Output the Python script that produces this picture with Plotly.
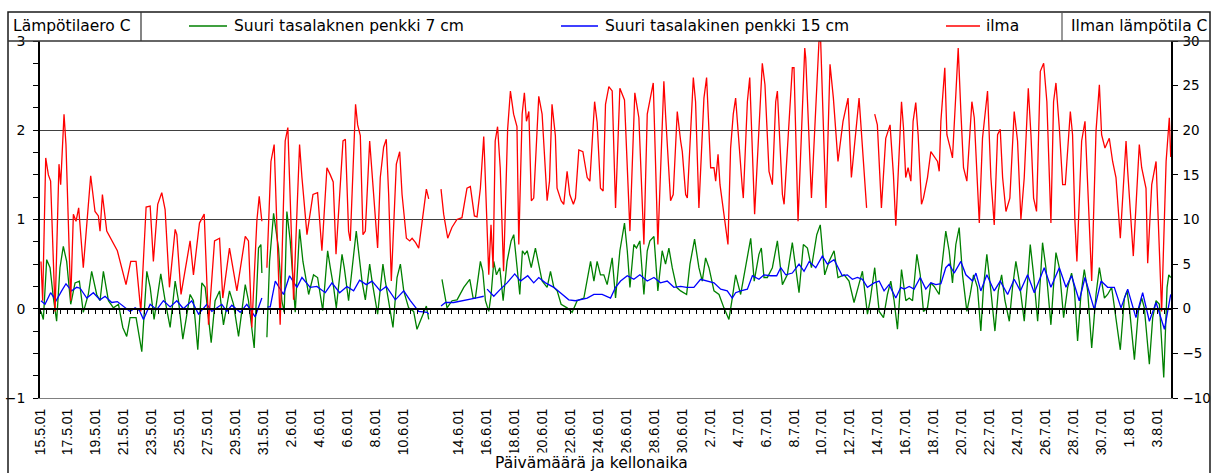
import plotly.graph_objects as go

# ---------------- data (x = days since 15.5.2001 00:00) ----------------
tick_days = [0, 2, 4, 6, 8, 10, 12, 14, 16, 18, 20, 22, 24, 26, 30, 32, 34, 36, 38, 40,
             42, 44, 46, 48, 50, 52, 54, 56, 58, 60, 62, 64, 66, 68, 70, 72, 74, 76, 78, 80]
tick_labels = ["15.5.01", "17.5.01", "19.5.01", "21.5.01", "23.5.01", "25.5.01", "27.5.01",
               "29.5.01", "31.5.01", "2.6.01", "4.6.01", "6.6.01", "8.6.01", "10.6.01",
               "14.6.01", "16.6.01", "18.6.01", "20.6.01", "22.6.01", "24.6.01", "26.6.01",
               "28.6.01", "30.6.01", "2.7.01", "4.7.01", "6.7.01", "8.7.01", "10.7.01",
               "12.7.01", "14.7.01", "16.7.01", "18.7.01", "20.7.01", "22.7.01", "24.7.01",
               "26.7.01", "28.7.01", "30.7.01", "1.8 01", "3.8.01"]

# Suuri tasalaknen penkki 7 cm (left axis, temperature difference C); None = gap
penkki7 = [
    (0.07, -0.03), (0.24, -0.12), (0.48, 0.55), (0.72, 0.46), (0.96, 0.12), (1.19, -0.14),
    (1.43, 0.46), (1.67, 0.70), (1.91, 0.53), (2.2, 0.05), (2.51, 0.29), (2.82, 0.31),
    (3.1, -0.04), (3.46, 0.16), (3.7, 0.42), (4.06, 0.16), (4.3, 0.09), (4.54, 0.42),
    (4.9, 0.09), (5.26, 0.01), (5.62, 0.05), (5.93, -0.21), (6.21, -0.31), (6.45, -0.1),
    (6.88, -0.1), (7.29, -0.48), (7.65, 0.42), (7.89, 0.24), (8.17, -0.12), (8.65, 0.39),
    (8.96, 0.09), (9.32, -0.21), (9.68, 0.31), (9.92, 0.09), (10.23, -0.34), (10.75, 0.16),
    (10.99, 0.09), (11.3, -0.46), (11.59, 0.29), (11.83, 0.24), (12.26, -0.38), (12.54, 0.09),
    (12.86, 0.2), (13.14, -0.18), (13.57, 0.2), (13.86, 0.05), (14.22, -0.31), (14.7, 0.27),
    (14.93, 0.09), (15.34, -0.44), (15.65, 0.68), (15.82, 0.72), (15.89, 0.4), None,
    (16.25, -0.32), (16.44, 0.53), (16.73, 1.07), (17.08, 0.68), (17.32, 0.09), (17.49, -0.04),
    (17.68, 1.09), (17.92, 0.76), (18.28, -0.04), (18.59, 0.89), (18.83, 0.53), (19.24, 0.16),
    (19.59, 0.38), (19.88, 0.35), (20.25, -0.02), (20.6, 0.65), (20.79, 0.46), (21.03, 0.24),
    (21.22, 0.01), (21.63, 0.61), (21.79, 0.46), (22.1, 0.09), (22.65, 0.87), (22.89, 0.53),
    (23.06, 0.31), (23.3, 0.1), (23.61, 0.5), (23.78, 0.31), (24.18, -0.06), (24.56, 0.5),
    (24.73, 0.31), (25.28, -0.21), (25.57, 0.35), (25.81, 0.5), (26.05, 0.2), (26.4, 0.01),
    (26.76, -0.03), (27.0, -0.23), (27.24, -0.14), (27.67, 0.03), (27.84, -0.12), None,
    (28.79, 0.33), (29.15, 0.01), (29.51, 0.09), (29.87, 0.1), (30.35, 0.24), (30.78, 0.33),
    (31.02, 0.12), (31.18, 0.12), (31.54, 0.53), (31.71, 0.42), (31.9, 0.09), (32.14, -0.03),
    (32.31, 0.16), (32.5, 0.53), (32.69, 0.38), (32.93, 0.46), (33.17, 0.09), (33.45, 0.53),
    (33.74, 0.76), (33.93, 0.83), (34.17, 0.46), (34.36, 0.16), (34.55, 0.65), (34.72, 0.61),
    (34.89, 0.65), (35.18, 0.46), (35.48, 0.68), (35.72, 0.5), (35.96, 0.31), (36.32, 0.24),
    (36.56, 0.42), (36.8, 0.24), (37.04, 0.2), (37.32, 0.05), (37.75, 0.01), (38.11, -0.04),
    (38.47, 0.09), (38.95, 0.12), (39.43, 0.53), (39.67, 0.31), (39.9, 0.53), (40.14, 0.38),
    (40.38, 0.38), (40.62, 0.27), (40.98, 0.57), (41.22, 0.12), (41.53, 0.65), (41.86, 0.96),
    (42.06, 0.65), (42.25, 0.24), (42.53, 0.72), (42.72, 0.68), (42.96, 0.76), (43.25, 0.16),
    (43.49, 0.65), (43.68, 0.76), (43.97, 0.81), (44.25, 0.2), (44.56, 0.65), (44.8, 0.5),
    (45.04, 0.68), (45.28, 0.46), (45.59, 0.24), (45.88, 0.2), (46.31, 0.16), (46.55, 0.5),
    (46.88, 0.78), (47.19, 0.46), (47.43, 0.31), (47.67, 0.57), (47.91, 0.46), (48.27, 0.2),
    (48.63, 0.16), (48.98, 0.01), (49.34, -0.12), (49.58, 0.12), (49.82, 0.38), (50.18, 0.16),
    (50.54, 0.5), (50.9, 0.79), (51.15, 0.31), (51.49, 0.61), (51.66, 0.68), (51.85, 0.35),
    (52.09, 0.35), (52.45, 0.46), (52.81, 0.76), (53.17, 0.27), (53.52, 0.38), (53.88, 0.74),
    (54.12, 0.46), (54.36, 0.18), (54.67, 0.72), (54.96, 0.68), (55.25, 0.46), (55.63, 0.83),
    (55.88, 0.94), (56.05, 0.68), (56.2, 0.38), (56.51, 0.53), (56.87, 0.65), (57.15, 0.35),
    (57.59, 0.38), (57.94, 0.31), (58.3, 0.07), (58.59, 0.24), (58.9, 0.42), (59.26, -0.06),
    (59.45, 0.09), (59.78, 0.46), (60.1, -0.03), (60.41, -0.1), (60.69, 0.16), (60.93, 0.31),
    (61.17, 0.09), (61.41, -0.23), (61.7, 0.44), (62.01, 0.09), (62.25, 0.12), (62.49, 0.09),
    (62.8, 0.61), (63.04, 0.38), (63.27, -0.03), (63.56, 0.01), (63.8, 0.29), (64.04, 0.25),
    (64.4, 0.16), (64.52, 0.38), (64.87, 0.87), (65.11, 0.65), (65.35, 0.29), (65.59, 0.72),
    (65.83, 0.91), (66.07, 0.38), (66.38, -0.03), (66.62, 0.16), (66.86, 0.38), (67.14, 0.24),
    (67.38, -0.25), (67.57, 0.24), (67.81, 0.61), (68.1, 0.2), (68.39, -0.25), (68.63, 0.2),
    (68.87, 0.38), (69.11, 0.09), (69.42, -0.14), (69.65, 0.24), (69.89, 0.53), (70.13, 0.31),
    (70.49, -0.14), (70.73, 0.31), (70.92, 0.72), (71.16, 0.38), (71.45, -0.14), (71.68, 0.42),
    (71.8, 0.74), (72.04, 0.46), (72.4, -0.18), (72.64, 0.38), (72.76, 0.63), (73.0, 0.46),
    (73.31, -0.1), (73.6, 0.24), (73.88, 0.4), (74.07, 0.24), (74.31, -0.36), (74.55, 0.16),
    (74.79, 0.44), (75.03, 0.2), (75.32, -0.44), (75.63, 0.16), (75.87, 0.46), (76.23, 0.12),
    (76.46, 0.16), (76.75, 0.24), (76.94, 0.01), (77.37, -0.46), (77.66, 0.12), (77.85, 0.2),
    (78.02, 0.01), (78.38, -0.57), (78.66, -0.03), (78.9, 0.12), (79.09, 0.01), (79.45, -0.62),
    (79.69, -0.1), (79.93, 0.09), (80.17, 0.05), (80.48, -0.77), (80.72, 0.24), (80.84, 0.38),
    (80.98, 0.35),
]

# Suuri tasalakinen penkki 15 cm (left axis)
penkki15 = [
    (0.07, 0.09), (0.36, 0.05), (0.76, 0.18), (1.15, 0.09), (1.55, 0.2), (1.86, 0.28),
    (2.27, 0.2), (2.63, 0.24), (2.87, 0.23), (3.35, 0.12), (3.82, 0.18), (4.3, 0.1),
    (4.66, 0.14), (5.14, 0.07), (5.54, 0.08), (6.09, 0.01), (6.45, -0.03), (6.81, 0.01),
    (7.12, -0.02), (7.41, -0.12), (7.89, 0.05), (8.36, -0.01), (8.84, 0.09), (9.32, 0.02),
    (9.8, 0.09), (10.27, 0.0), (10.87, 0.09), (11.35, -0.06), (11.95, 0.05), (12.31, -0.03),
    (13.02, 0.05), (13.38, -0.03), (13.74, 0.04), (14.34, -0.04), (14.81, 0.05), (15.41, -0.09),
    (15.89, 0.12), None,
    (16.3, 0.02), (16.49, 0.02), (16.85, 0.31), (17.44, 0.16), (17.87, 0.37), (18.4, 0.24),
    (18.76, 0.35), (19.35, 0.24), (19.83, 0.25), (20.43, 0.18), (20.91, 0.29), (21.46, 0.18),
    (21.98, 0.25), (22.46, 0.2), (22.89, 0.32), (23.37, 0.27), (23.78, 0.31), (24.37, 0.2),
    (24.8, 0.25), (25.45, 0.1), (26.05, 0.2), (26.52, 0.09), (27.12, -0.03), (27.72, -0.04),
    (27.84, -0.06), None,
    (28.72, 0.03), (29.04, 0.07), (29.63, 0.07), (30.35, 0.09), (30.7, 0.1), (31.18, 0.12),
    (31.78, 0.14), None,
    (32.02, 0.22), (32.5, 0.14), (32.98, 0.22), (33.45, 0.29), (34.0, 0.39), (34.41, 0.31),
    (34.93, 0.37), (35.36, 0.29), (35.72, 0.35), (36.2, 0.29), (36.8, 0.24), (37.28, 0.18),
    (37.87, 0.1), (38.35, 0.09), (39.19, 0.12), (39.67, 0.16), (40.26, 0.16), (40.86, 0.12),
    (41.22, 0.24), (41.58, 0.31), (42.06, 0.37), (42.53, 0.33), (42.96, 0.38), (43.49, 0.31),
    (43.97, 0.35), (44.44, 0.29), (44.92, 0.31), (45.4, 0.24), (45.88, 0.25), (46.31, 0.24),
    (46.83, 0.24), (47.31, 0.33), (47.79, 0.31), (48.27, 0.29), (48.75, 0.22), (49.22, 0.2),
    (49.58, 0.12), (49.82, 0.18), (50.18, 0.2), (50.66, 0.22), (51.02, 0.37), (51.49, 0.33),
    (51.85, 0.38), (52.33, 0.37), (52.76, 0.37), (53.05, 0.46), (53.41, 0.38), (53.88, 0.4),
    (54.36, 0.5), (54.72, 0.42), (55.09, 0.53), (55.56, 0.46), (56.03, 0.59), (56.39, 0.5),
    (56.87, 0.55), (57.15, 0.46), (57.46, 0.37), (57.82, 0.38), (58.18, 0.33), (58.54, 0.35),
    (58.9, 0.33), (59.26, 0.24), (59.74, 0.29), (60.1, 0.31), (60.22, 0.27), (60.45, 0.2),
    (60.81, 0.27), (61.29, 0.12), (61.65, 0.24), (61.89, 0.22), (62.25, 0.25), (62.6, 0.22),
    (63.04, 0.35), (63.44, 0.22), (63.8, 0.29), (64.16, 0.27), (64.52, 0.28), (64.87, 0.46),
    (65.11, 0.5), (65.47, 0.4), (65.95, 0.53), (66.31, 0.38), (66.79, 0.31), (67.03, 0.4),
    (67.38, 0.2), (67.81, 0.38), (68.34, 0.2), (68.77, 0.31), (69.3, 0.16), (69.77, 0.33),
    (70.21, 0.2), (70.73, 0.38), (71.21, 0.18), (71.92, 0.46), (72.4, 0.24), (73.0, 0.46),
    (73.48, 0.24), (73.88, 0.37), (74.43, 0.09), (74.84, 0.35), (75.51, -0.01), (75.99, 0.31),
    (76.46, 0.24), (76.94, 0.24), (77.42, 0.01), (77.9, 0.22), (78.49, -0.1), (78.97, 0.18),
    (79.45, -0.14), (79.93, 0.07), (80.53, -0.23), (80.98, 0.16),
]

# ilma (right axis, air temperature C)
ilma = [
    (0.07, 5.3), (0.19, 0.9), (0.41, 16.9), (0.6, 15.0), (0.76, 14.3), (1.08, -0.3),
    (1.36, 16.2), (1.48, 13.9), (1.72, 21.8), (1.86, 18.4), (2.2, 0.9), (2.39, 10.6),
    (2.58, 9.8), (2.77, 11.3), (3.1, 4.6), (3.63, 14.9), (3.94, 10.9), (4.18, 10.4),
    (4.3, 8.7), (4.47, 12.8), (4.78, 8.7), (5.26, 7.2), (5.54, 6.5), (6.16, 2.7),
    (6.5, 5.3), (6.88, 5.3), (7.22, -0.3), (7.6, 11.4), (7.89, 11.5), (8.12, 5.3),
    (8.43, 11.7), (8.72, 13.0), (8.96, 11.1), (9.27, 2.4), (9.68, 8.9), (9.8, 8.3),
    (10.1, 1.6), (10.75, 7.6), (10.99, 3.8), (11.42, 9.6), (11.76, 10.6), (12.07, -1.8),
    (12.5, 7.6), (12.86, 7.9), (13.09, 1.2), (13.57, 6.8), (14.1, 2.0), (14.7, 8.1),
    (14.93, 7.6), (15.17, -2.1), (15.53, 9.8), (15.7, 12.6), (15.89, 9.8), None,
    (16.25, 4.6), (16.54, 16.5), (16.77, 18.4), (17.2, -1.8), (17.56, 18.8), (17.75, 20.3),
    (18.16, 1.0), (18.59, 18.4), (18.76, 14.7), (19.12, 8.3), (19.55, 12.8), (19.88, 13.0),
    (20.19, 6.5), (20.55, 15.8), (20.79, 15.0), (21.0, 14.2), (21.2, 6.1), (21.7, 18.8),
    (21.87, 19.0), (22.1, 8.7), (22.22, 7.6), (22.6, 22.9), (22.75, 20.6), (22.94, 19.4),
    (23.13, 8.3), (23.3, 8.7), (23.61, 18.8), (23.78, 15.0), (23.9, 12.8), (24.18, 6.8),
    (24.37, 14.7), (24.61, 18.1), (24.8, 19.0), (24.97, 12.8), (25.16, 3.1), (25.52, 16.2),
    (25.76, 17.6), (25.93, 12.8), (26.24, 7.9), (26.48, 7.6), (26.65, 7.9), (26.9, 7.4),
    (27.12, 6.8), (27.67, 13.4), (27.84, 12.3), None,
    (28.72, 13.4), (28.91, 10.6), (29.2, 7.9), (29.5, 9.1), (29.86, 10.0), (30.22, 10.2),
    (30.58, 13.5), (30.82, 13.7), (31.11, 10.4), (31.3, 10.3), (31.54, 13.5), (31.78, 19.3),
    (31.85, 16.5), (32.14, 3.8), (32.3, 9.4), (32.45, 4.6), (32.6, 18.8), (32.77, 20.4),
    (32.96, 15.8), (33.2, 4.2), (33.49, 20.1), (33.69, 24.4), (33.92, 21.8), (34.16, 20.4),
    (34.29, 7.2), (34.53, 21.8), (34.69, 24.2), (34.84, 21.0), (35.01, 22.1), (35.19, 12.1),
    (35.36, 12.4), (35.72, 23.8), (35.96, 21.8), (36.32, 12.1), (36.49, 14.3), (36.67, 22.9),
    (36.91, 19.4), (37.03, 13.5), (37.32, 12.1), (37.51, 11.7), (37.75, 15.4), (37.94, 12.8),
    (38.2, 11.7), (38.35, 12.4), (38.59, 17.8), (38.88, 17.6), (39.19, 14.7), (39.38, 14.3),
    (39.72, 23.2), (39.9, 20.9), (40.14, 13.5), (40.33, 13.2), (40.5, 22.9), (40.74, 24.9),
    (40.98, 24.4), (41.1, 16.5), (41.22, 11.3), (41.53, 24.7), (41.7, 24.0), (41.86, 23.4),
    (42.25, 8.7), (42.6, 24.2), (42.89, 21.4), (43.25, 7.2), (43.49, 21.8), (43.85, 24.7),
    (43.92, 25.3), (44.25, 7.2), (44.68, 25.5), (44.8, 21.8), (45.16, 12.1), (45.35, 12.8),
    (45.64, 22.1), (45.88, 18.8), (46.0, 17.6), (46.24, 12.8), (46.36, 12.4), (46.79, 25.9),
    (46.95, 23.2), (47.19, 11.3), (47.55, 23.6), (47.74, 25.9), (48.03, 15.8), (48.27, 15.8),
    (48.39, 14.3), (48.56, 17.3), (48.7, 13.9), (49.27, 7.2), (49.46, 18.0), (49.65, 21.8),
    (49.82, 23.6), (50.3, 13.5), (50.37, 12.4), (50.66, 23.2), (50.83, 25.9), (51.18, 10.6),
    (51.49, 21.0), (51.73, 27.5), (51.92, 25.1), (52.21, 15.4), (52.45, 13.9), (52.69, 23.2),
    (52.81, 24.4), (53.17, 12.8), (53.29, 11.7), (53.88, 27.0), (54.0, 27.0), (54.29, 9.8),
    (54.77, 29.2), (54.84, 28.1), (55.25, 12.4), (55.79, 30.0), (55.91, 30.0), (56.29, 11.3),
    (56.58, 27.4), (56.82, 23.6), (57.15, 16.5), (57.51, 21.0), (57.87, 23.6), (58.11, 14.7),
    (58.66, 23.6), (59.2, 11.3), None,
    (59.78, 21.8), (59.97, 20.6), (60.26, 11.3), (60.57, 19.1), (60.88, 20.6), (61.12, 15.0),
    (61.29, 9.3), (61.7, 23.2), (61.84, 20.3), (62.0, 14.7), (62.17, 15.8), (62.37, 14.3),
    (62.53, 21.0), (62.72, 23.1), (62.89, 19.5), (63.13, 11.7), (63.27, 12.4), (63.56, 14.7),
    (63.8, 17.6), (64.09, 16.9), (64.28, 16.5), (64.4, 15.4), (64.52, 21.0), (64.8, 27.0),
    (64.95, 19.5), (65.19, 18.0), (65.35, 16.9), (65.59, 24.0), (65.76, 29.2), (65.95, 22.1),
    (66.14, 15.8), (66.38, 14.3), (66.55, 19.1), (66.74, 23.2), (66.91, 21.4), (67.27, 9.6),
    (67.5, 19.1), (67.86, 24.4), (68.1, 14.7), (68.34, 9.4), (68.58, 19.5), (68.77, 20.1),
    (68.94, 14.7), (69.18, 10.9), (69.46, 12.4), (69.77, 22.1), (70.01, 18.8), (70.25, 10.0),
    (70.49, 14.7), (70.78, 24.7), (70.97, 19.5), (71.16, 12.4), (71.37, 10.9), (71.64, 26.6),
    (71.88, 27.5), (72.11, 23.2), (72.4, 9.6), (72.59, 23.2), (72.76, 25.3), (73.0, 20.3),
    (73.24, 13.9), (73.43, 13.9), (73.79, 22.1), (73.95, 19.5), (74.12, 9.8), (74.26, 5.3),
    (74.6, 18.8), (74.84, 21.0), (75.08, 12.1), (75.32, 3.1), (75.63, 19.9), (75.87, 25.1),
    (76.03, 19.5), (76.27, 18.0), (76.58, 19.1), (76.82, 16.5), (77.06, 14.7), (77.37, 7.9),
    (77.78, 18.8), (77.9, 15.4), (78.3, 5.9), (78.73, 18.4), (78.9, 15.8), (79.21, 13.5),
    (79.33, 5.1), (79.62, 13.9), (79.93, 16.5), (80.17, 6.8), (80.33, -0.3), (80.65, 16.5),
    (80.88, 21.4), (80.98, 17.0),
]

series_names = ["Suuri tasalaknen penkki 7 cm", "Suuri tasalakinen penkki 15 cm", "ilma"]

# ---------------- layout helpers (pixel -> paper) ----------------
W, H = 1213, 473
ML, MR, MT, MB = 40, 42, 41, 75
PW, PH = W - ML - MR, H - MT - MB


def fx(p):
    return (p - ML) / PW


def fy(p):
    return (H - MB - p) / PH


def unzip(points):
    xs, ys = [], []
    for p in points:
        if p is None:
            xs.append(None)
            ys.append(None)
        else:
            xs.append(p[0])
            ys.append(p[1])
    return xs, ys


GREEN, BLUE, RED = "#008000", "#0000FF", "#FF0000"
HFONT = "DejaVu Sans"
LW = 1.3

fig = go.Figure()
for pts, color, name, yax in [(penkki7, GREEN, series_names[0], "y"),
                              (penkki15, BLUE, series_names[1], "y"),
                              (ilma, RED, series_names[2], "y2")]:
    xs, ys = unzip(pts)
    fig.add_trace(go.Scatter(x=xs, y=ys, mode="lines", name=name, yaxis=yax,
                             line=dict(color=color, width=LW), connectgaps=False,
                             showlegend=False))
# invisible helper trace so that the zero-line axis (x2) is drawn
fig.add_trace(go.Scatter(x=[0], y=[None], xaxis="x2", yaxis="y", showlegend=False,
                         hoverinfo="skip", mode="lines"))

fig.update_layout(
    width=W, height=H,
    margin=dict(l=ML, r=MR, t=MT, b=MB),
    paper_bgcolor="white", plot_bgcolor="white",
    xaxis=dict(range=[0, 81], tickmode="array", tickvals=tick_days, ticktext=tick_labels,
               tickangle=-90, ticks="", showline=True, linecolor="#808080", linewidth=1,
               showgrid=False, zeroline=False, automargin=False, ticklabelstandoff=4,
               tickfont=dict(family="Liberation Sans, Arial", size=14, color="black")),
    xaxis2=dict(range=[0, 81], overlaying="x", anchor="free", position=0.25, side="bottom",
                showline=True, linecolor="black", linewidth=1.5, ticks="outside", ticklen=4,
                tickcolor="black", tickwidth=1, tick0=0, dtick=0.5, showticklabels=False,
                showgrid=False, zeroline=False),
    yaxis=dict(range=[-1, 3], tickmode="array", tickvals=[-1, 0, 1, 2, 3], ticks="outside",
               ticklen=5, tickcolor="black", showline=True, linecolor="black", linewidth=1.5,
               showgrid=True, gridcolor="#404040", gridwidth=1, zeroline=False,
               automargin=False, ticklabelstandoff=5,
               minor=dict(tickmode="array", tickvals=[-0.75, -0.5, -0.25, 0.25, 0.5, 0.75,
                                                      1.25, 1.5, 1.75, 2.25, 2.5, 2.75],
                          ticks="outside", ticklen=5, tickcolor="black", showgrid=False),
               tickfont=dict(family=HFONT, size=14, color="black")),
    yaxis2=dict(range=[-10, 30], overlaying="y", side="right", tickmode="array",
                tickvals=list(range(-10, 31, 5)), ticks="outside", ticklen=5,
                tickcolor="black", showline=True, linecolor="black", linewidth=1.5,
                showgrid=False, zeroline=False, automargin=False, ticklabelstandoff=2,
                tickfont=dict(family=HFONT, size=13.5, color="black")),
    showlegend=False,
)

shapes = [
    # outer chart frame
    dict(type="rect", xref="paper", yref="paper", x0=fx(8), x1=fx(1210), y0=fy(490), y1=fy(12),
         line=dict(color="#1a1a1a", width=1.5)),
    # header row bottom line
    dict(type="line", xref="paper", yref="paper", x0=fx(8), x1=fx(1210), y0=fy(41), y1=fy(41),
         line=dict(color="#333333", width=1.5)),
    # header dividers
    dict(type="line", xref="paper", yref="paper", x0=fx(141), x1=fx(141), y0=fy(12), y1=fy(41),
         line=dict(color="#333333", width=1.2)),
    dict(type="line", xref="paper", yref="paper", x0=fx(1062), x1=fx(1062), y0=fy(12), y1=fy(41),
         line=dict(color="#555555", width=1.2)),
]
legend_items = [(189, 227, 232, GREEN, series_names[0]),
                (561, 598, 603, BLUE, series_names[1]),
                (946, 980, 984, RED, series_names[2])]
annotations = []
for x0, x1, xt, color, name in legend_items:
    shapes.append(dict(type="line", xref="paper", yref="paper", x0=fx(x0), x1=fx(x1),
                       y0=fy(26), y1=fy(26), line=dict(color=color, width=LW)))
    annotations.append(dict(x=fx(xt), y=fy(26), xref="paper", yref="paper", text=name,
                            showarrow=False, xanchor="left", yanchor="middle",
                            font=dict(family=HFONT, size=15.5, color="black")))

annotations += [
    dict(x=fx(11), y=fy(26), xref="paper", yref="paper", text="Lämpötilaero C",
         showarrow=False, xanchor="left", yanchor="middle",
         font=dict(family=HFONT, size=15.5, color="black")),
    dict(x=fx(1209), y=fy(26), xref="paper", yref="paper", text="Ilman lämpötila C",
         showarrow=False, xanchor="right", yanchor="middle",
         font=dict(family=HFONT, size=15.5, color="black")),
    dict(x=fx(591), y=fy(463), xref="paper", yref="paper", text="Päivämäärä ja kellonaika",
         showarrow=False, xanchor="center", yanchor="middle", bgcolor="white",
         font=dict(family=HFONT, size=15.5, color="black")),
]
fig.update_layout(shapes=shapes, annotations=annotations)

fig.write_html("out.html", config={"displayModeBar": False},
               post_script="document.body.style.margin='0';document.body.style.padding='0';"
                           "document.documentElement.style.overflow='hidden';")
